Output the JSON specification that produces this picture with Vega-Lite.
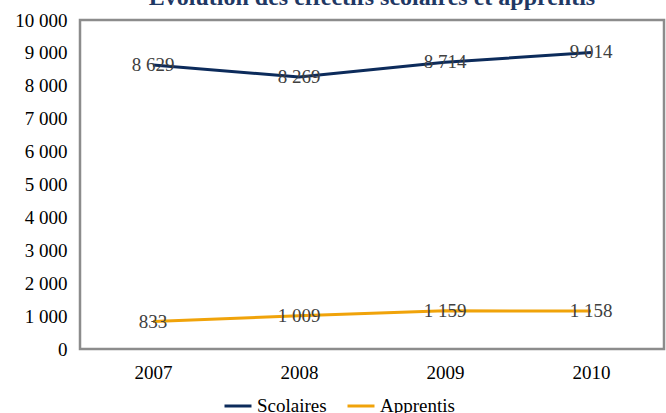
{
  "$schema": "https://vega.github.io/schema/vega-lite/v6.json",
  "width": 584,
  "height": 329,
  "autosize": {"type": "none"},
  "padding": {"left": 80, "top": 20, "right": 2, "bottom": 64},
  "title": {
    "text": "Évolution des effectifs scolaires et apprentis",
    "font": "Liberation Serif",
    "fontSize": 24,
    "fontWeight": "bold",
    "color": "#1f3864",
    "anchor": "middle",
    "offset": 1
  },
  "config": {
    "locale": {"number": {"decimal": ",", "thousands": " ", "grouping": [3], "currency": ["", " €"]}},
    "view": {"stroke": "#8c8c8c", "strokeWidth": 2.5},
    "font": "Liberation Serif"
  },
  "data": {
    "values": [
      {"annee": "2007", "serie": "Scolaires", "valeur": 8629},
      {"annee": "2008", "serie": "Scolaires", "valeur": 8269},
      {"annee": "2009", "serie": "Scolaires", "valeur": 8714},
      {"annee": "2010", "serie": "Scolaires", "valeur": 9014},
      {"annee": "2007", "serie": "Apprentis", "valeur": 833},
      {"annee": "2008", "serie": "Apprentis", "valeur": 1009},
      {"annee": "2009", "serie": "Apprentis", "valeur": 1159},
      {"annee": "2010", "serie": "Apprentis", "valeur": 1158}
    ]
  },
  "encoding": {
    "x": {
      "field": "annee",
      "type": "ordinal",
      "scale": {"type": "point", "padding": 0.5},
      "axis": {
        "title": null,
        "domain": false,
        "ticks": false,
        "labelAngle": 0,
        "labelFont": "Liberation Serif",
        "labelFontSize": 19,
        "labelColor": "#000000",
        "labelPadding": 14
      }
    },
    "y": {
      "field": "valeur",
      "type": "quantitative",
      "scale": {"domain": [0, 10000], "nice": false},
      "axis": {
        "title": null,
        "domain": false,
        "ticks": false,
        "grid": false,
        "values": [0, 1000, 2000, 3000, 4000, 5000, 6000, 7000, 8000, 9000, 10000],
        "format": ",d",
        "labelFont": "Liberation Serif",
        "labelFontSize": 19,
        "labelColor": "#000000",
        "labelPadding": 13
      }
    }
  },
  "layer": [
    {
      "mark": {"type": "line", "strokeWidth": 3},
      "encoding": {
        "color": {
          "field": "serie",
          "type": "nominal",
          "sort": ["Scolaires", "Apprentis"],
          "scale": {"domain": ["Scolaires", "Apprentis"], "range": ["#0c2b5b", "#f0a30a"]},
          "legend": {
            "title": null,
            "orient": "none",
            "direction": "horizontal",
            "legendX": 143,
            "legendY": 371,
            "symbolType": "stroke",
            "symbolSize": 729,
            "symbolStrokeWidth": 3,
            "labelFont": "Liberation Serif",
            "labelFontSize": 19,
            "labelColor": "#000000",
            "columnPadding": 14,
            "labelOffset": 4
          }
        }
      }
    },
    {
      "mark": {"type": "text", "font": "Liberation Serif", "fontSize": 19, "color": "#404040", "align": "center", "baseline": "middle"},
      "encoding": {
        "text": {"field": "valeur", "type": "quantitative", "format": ",d"}
      }
    }
  ]
}
